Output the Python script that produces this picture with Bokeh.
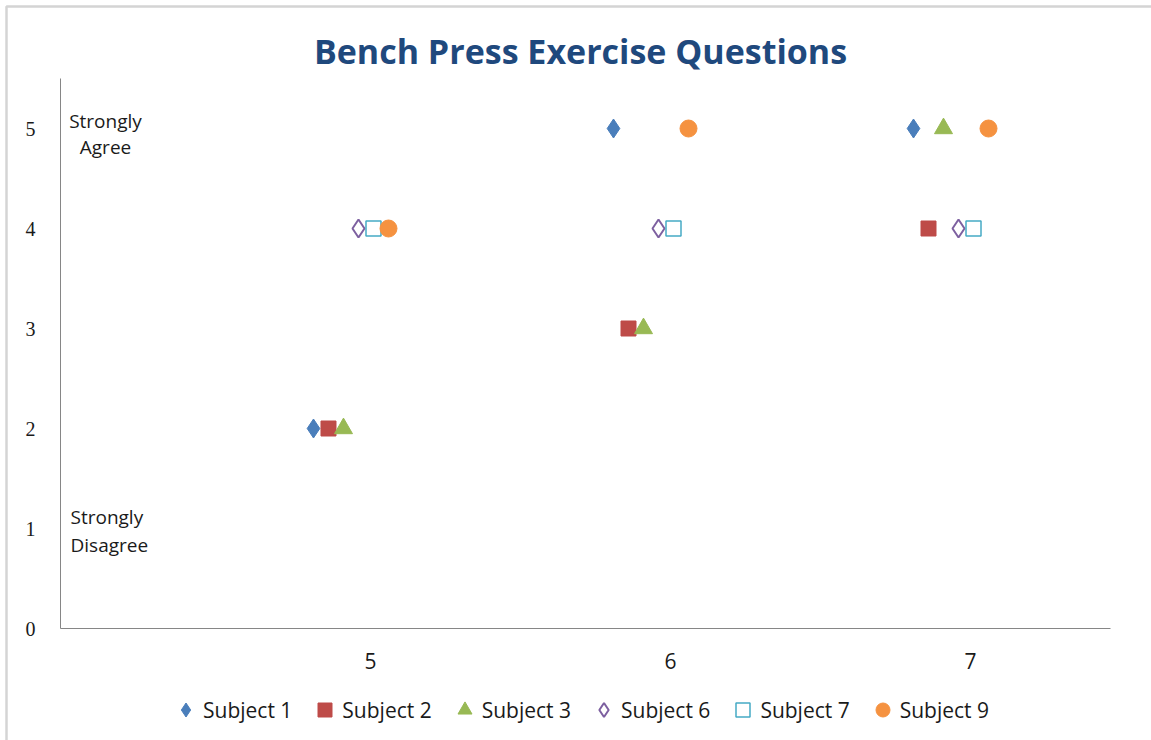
import numpy as np
from bokeh.plotting import figure
from bokeh.models import (Range1d, FixedTicker, Label, Legend, LegendItem, ColumnDataSource,
                          BoxAnnotation)
from bokeh.transform import dodge
from bokeh.embed import file_html
from bokeh.resources import INLINE

# ---- data ----
questions = [5, 6, 7]
subject_1 = [2, 5, 5]
subject_2 = [2, 3, 4]
subject_3 = [2, 3, 5]
subject_6 = [4, 4, 4]
subject_7 = [4, 4, 4]
subject_9 = [4, 5, 5]
series_names = ["Subject 1", "Subject 2", "Subject 3", "Subject 6", "Subject 7", "Subject 9"]
y_ticks = [0, 1, 2, 3, 4, 5]
x_ticks = [5, 6, 7]

SANS = "Open Sans"
X0 = 3.9667          # left end of the value axis
X1 = 7.4667          # right end of the category axis

p = figure(width=1151, height=740, output_backend="svg", toolbar_location=None,
           x_range=Range1d(3.7667, 7.6033), y_range=Range1d(-1.12, 6.28),
           min_border_left=0, min_border_right=0, min_border_top=0, min_border_bottom=0)
p.outline_line_color = None
p.grid.grid_line_color = None
p.background_fill_color = "white"
p.border_fill_color = "white"

for ax in (p.xaxis, p.yaxis):
    ax.axis_line_color = "#868686"
    ax.axis_line_width = 1
    ax.major_tick_line_color = None
    ax.minor_tick_line_color = None
    ax.major_tick_out = 0
    ax.major_tick_in = 0
    ax.major_label_text_color = "#1a1a1a"

p.xaxis.fixed_location = 0
p.xaxis.bounds = (X0, X1)
p.xaxis.ticker = FixedTicker(ticks=x_ticks)
p.xaxis.major_label_text_font = SANS
p.xaxis.major_label_text_font_size = "21px"
p.xaxis.major_label_standoff = 24

p.yaxis.fixed_location = X0
p.yaxis.bounds = (0, 5.5)
p.yaxis.ticker = FixedTicker(ticks=y_ticks)
p.yaxis.major_label_text_font = "Liberation Serif"
p.yaxis.major_label_text_font_size = "20px"
p.yaxis.major_label_standoff = 25

# chart border (top/left visible)
p.add_layout(BoxAnnotation(left=3.7867, right=7.70, top=6.22, bottom=-1.3,
                           fill_alpha=0, line_color="#6f6f6f", line_width=2.5))

src = ColumnDataSource(dict(q=questions, s1=subject_1, s2=subject_2, s3=subject_3,
                            s6=subject_6, s7=subject_7, s9=subject_9))

offsets = [-0.19, -0.14, -0.09, -0.04, 0.01, 0.06]
cols = ["s1", "s2", "s3", "s6", "s7", "s9"]
styles = [
    dict(marker="diamond", size=19, fill_color="#4A7EBB", line_color="#4A7EBB"),
    dict(marker="square", size=15, fill_color="#BE4B48", line_color="#BE4B48"),
    dict(marker="triangle", size=18, fill_color="#98B954", line_color="#98B954"),
    dict(marker="diamond", size=18, fill_color="white", line_color="#7D60A0", line_width=2),
    dict(marker="square", size=15, fill_color="white", line_color="#46AAC5", line_width=1.5),
    dict(marker="circle", size=17, fill_color="#F59240", line_color="#F59240"),
]

renderers = []
for col, off, st in zip(cols, offsets, styles):
    r = p.scatter(x=dodge("q", off), y=col, source=src, **st)
    renderers.append(r)

legend = Legend(items=[LegendItem(label=n, renderers=[r]) for n, r in zip(series_names, renderers)],
                orientation="horizontal", location=(168, 13),
                glyph_width=35, glyph_height=35, label_standoff=0, spacing=15,
                padding=0, margin=0, border_line_color=None, background_fill_alpha=0,
                label_text_font=SANS, label_text_font_size="21px", label_text_color="#1a1a1a")
p.add_layout(legend)

p.add_layout(Label(x=5.70, y=5.78, text="Bench Press Exercise Questions", text_align="center",
                   text_baseline="middle", text_font=SANS, text_font_style="bold",
                   text_font_size="34px", text_color="#1F497D"))

for txt, x, y, al in [("Strongly", 4.1167, 5.08, "center"), ("Agree", 4.1167, 4.82, "center"),
                      ("Strongly", 4.0, 1.12, "left"), ("Disagree", 4.0, 0.84, "left")]:
    p.add_layout(Label(x=x, y=y, text=txt, text_align=al, text_baseline="middle",
                       text_font=SANS, text_font_size="19px", text_color="#1a1a1a"))

open("out.html", "w").write(file_html(p, INLINE))
